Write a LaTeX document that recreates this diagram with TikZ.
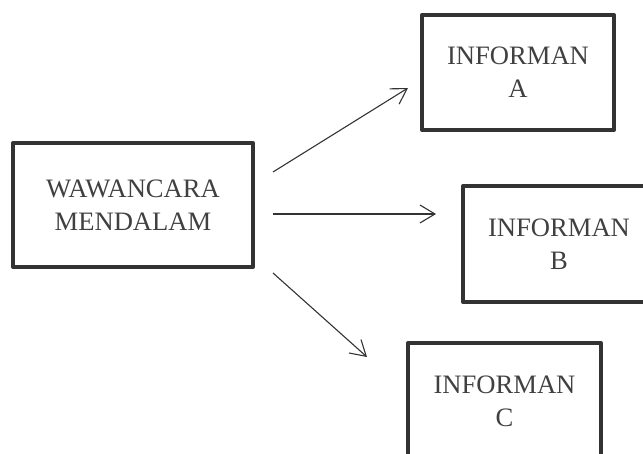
\documentclass[tikz,border=0pt]{standalone}
\usepackage{fontspec}
\setmainfont{Liberation Serif}
\usetikzlibrary{arrows.meta}
\definecolor{boxline}{HTML}{333333}
\definecolor{boxtext}{HTML}{404040}
\begin{document}
\begin{tikzpicture}[x=1pt,y=-1pt,
  kotak/.style={draw=boxline,line width=4pt,line join=round,
    minimum width=#1,inner sep=0pt,align=center,text=boxtext,
    font=\fontsize{26.6}{33}\selectfont},
  panah/.style={draw=boxline,line width=1.1pt,
    -{Straight Barb[length=15pt,width=18pt,line width=1.1pt]}}]
\useasboundingbox (0,0) rectangle (643,454);
\clip (0,0) rectangle (643,454);

\node[kotak=240pt,minimum height=124pt] (wawancara) at (133,205) {WAWANCARA\\MENDALAM};
\node[kotak=192pt,minimum height=115pt] (infA) at (518,72.5) {INFORMAN\\A};
\node[kotak=192pt,minimum height=116pt] (infB) at (559,244) {INFORMAN\\B};
\node[kotak=193pt,minimum height=116pt] (infC) at (504.5,401) {INFORMAN\\C};

% ujung panah
\coordinate (s1) at (273,172);
\coordinate (e1) at (408,88);
\coordinate (s2) at (273,214);
\coordinate (e2) at (436,214);
\coordinate (s3) at (273,273);
\coordinate (e3) at (367,357);

\draw[panah] (s1) -- (e1);
\draw[panah] (s2) -- (e2);
\draw[panah] (s3) -- (e3);
\end{tikzpicture}
\end{document}
